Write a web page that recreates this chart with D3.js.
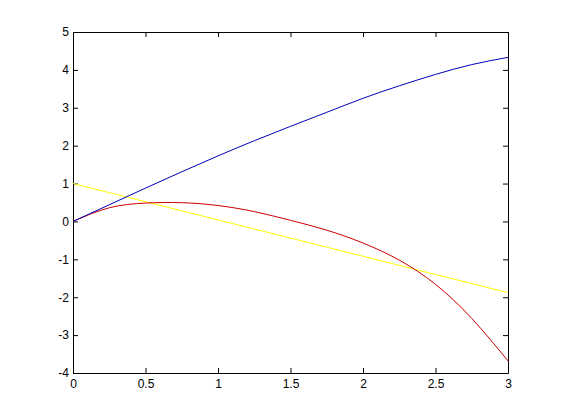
<!DOCTYPE html>
<html>
<head>
    <meta charset="utf-8">
    <title>Curves</title>
    <style>
        body { margin: 0; background: #fff; }
        svg { display: block; }
        .tick text { font-family: "Liberation Sans", Arial, sans-serif; font-size: 12px; fill: #000; }
        .domain, .tick line { stroke: #000; }
        .curve { fill: none; stroke-width: 1px; }
    </style>
</head>
<body>
<div id="chart"></div>

<script src="https://d3js.org/d3.v7.min.js"></script>
<script>
    // values
    const xs = [0, 0.25, 0.5, 0.75, 1, 1.25, 1.5, 1.75, 2, 2.25, 2.5, 2.75, 3];
    const blue = [0, 0.44, 0.88, 1.31, 1.73, 2.13, 2.51, 2.88, 3.25, 3.58, 3.88, 4.14, 4.33];
    const red = [0, 0.36, 0.485, 0.495, 0.42, 0.26, 0.03, -0.23, -0.57, -1.02, -1.66, -2.56, -3.68];
    const yellow = [1, 0.76, 0.52, 0.28, 0.04, -0.20, -0.44, -0.68, -0.92, -1.16, -1.40, -1.64, -1.88];
    const xTicks = [0, 0.5, 1, 1.5, 2, 2.5, 3];
    const yTicks = [-4, -3, -2, -1, 0, 1, 2, 3, 4, 5];

    const width = 561, height = 420;
    const svg = d3.select('#chart').append('svg')
        .attr('width', width)
        .attr('height', height);

    const x = d3.scaleLinear().domain([0, 3]).range([73, 508]);
    const y = d3.scaleLinear().domain([-4, 5]).range([373, 32]);
    const fmt = d => String(d);

    svg.append('g')
        .attr('transform', `translate(0,${y(-4)})`)
        .call(d3.axisBottom(x).tickValues(xTicks).tickFormat(fmt)
            .tickSizeInner(-5).tickSizeOuter(0).tickPadding(6));
    svg.append('g')
        .attr('transform', `translate(0,${y(5)})`)
        .call(d3.axisTop(x).tickValues(xTicks).tickFormat('')
            .tickSizeInner(-5).tickSizeOuter(0));
    svg.append('g')
        .attr('transform', `translate(${x(0)},0)`)
        .call(d3.axisLeft(y).tickValues(yTicks).tickFormat(fmt)
            .tickSizeInner(-5).tickSizeOuter(0).tickPadding(4));
    svg.append('g')
        .attr('transform', `translate(${x(3)},0)`)
        .call(d3.axisRight(y).tickValues(yTicks).tickFormat('')
            .tickSizeInner(-5).tickSizeOuter(0));

    const line = d3.line()
        .x((d, i) => x(xs[i]))
        .y(d => y(d))
        .curve(d3.curveNatural);

    svg.append('path').attr('class', 'curve').attr('stroke', '#ffff00')
        .attr('d', line(yellow));
    svg.append('path').attr('class', 'curve').attr('stroke', '#cc0000')
        .attr('d', line(red));
    svg.append('path').attr('class', 'curve').attr('stroke', '#0000bb')
        .attr('d', line(blue));
</script>
</body>
</html>
